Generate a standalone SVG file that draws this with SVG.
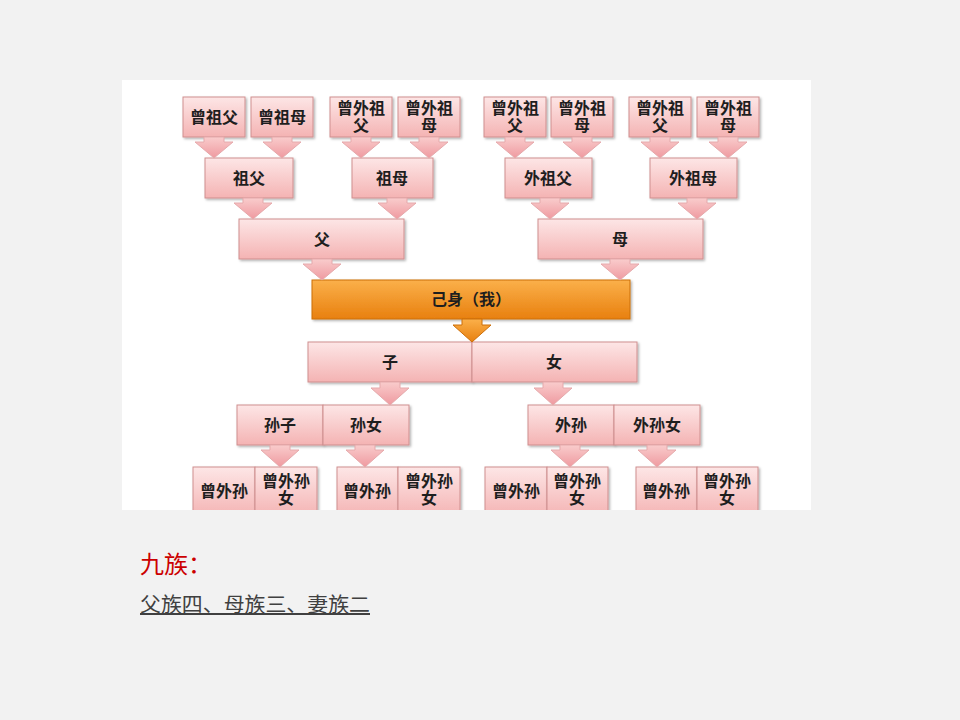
<svg xmlns="http://www.w3.org/2000/svg" width="960" height="720" viewBox="0 0 960 720">
<defs>
<linearGradient id="pink" x1="0" y1="0" x2="0" y2="1">
<stop offset="0" stop-color="#fde6e6"/>
<stop offset="1" stop-color="#f4b3b3"/>
</linearGradient>
<linearGradient id="pinka" x1="0" y1="0" x2="0" y2="1">
<stop offset="0" stop-color="#f9cccc"/>
<stop offset="1" stop-color="#ef9aa0"/>
</linearGradient>
<linearGradient id="orange" x1="0" y1="0" x2="0" y2="1">
<stop offset="0" stop-color="#fbb04a"/>
<stop offset="1" stop-color="#e8800f"/>
</linearGradient>
<filter id="sh" x="-10%" y="-10%" width="125%" height="130%">
<feDropShadow dx="1.5" dy="1.5" stdDeviation="1" flood-color="#000" flood-opacity="0.3"/>
</filter>
<clipPath id="img"><rect x="122" y="80" width="689" height="430"/></clipPath>
<style>
.b{fill:url(#pink);stroke:#cf8f8f;stroke-width:1;filter:url(#sh)}
.o{fill:url(#orange);stroke:#cc6e08;stroke-width:1;filter:url(#sh)}
.a{fill:url(#pinka);stroke:#e5a9ab;stroke-width:1}
.ao{fill:url(#orange);stroke:#cc6e08;stroke-width:1}
.t{font-family:"Liberation Serif","Noto Sans CJK SC",serif;font-weight:bold;font-size:16px;fill:#1e1e1e;text-anchor:middle}
</style>
</defs>
<rect width="960" height="720" fill="#f2f2f2"/>
<rect x="122" y="80" width="689" height="430" fill="#ffffff"/>
<g clip-path="url(#img)">
<g id="n-zengzufu"><rect class="b" x="183" y="97" width="62" height="40"/><text class="t" x="214" y="123">曾祖父</text></g>
<g id="n-zengzumu"><rect class="b" x="251" y="97" width="62" height="40"/><text class="t" x="282" y="123">曾祖母</text></g>
<g id="n-zwzf1"><rect class="b" x="330" y="97" width="62" height="40"/><text class="t" x="361" y="114">曾外祖</text><text class="t" x="361" y="131">父</text></g>
<g id="n-zwzm1"><rect class="b" x="398" y="97" width="62" height="40"/><text class="t" x="429" y="114">曾外祖</text><text class="t" x="429" y="131">母</text></g>
<g id="n-zwzf2"><rect class="b" x="484" y="97" width="62" height="40"/><text class="t" x="515" y="114">曾外祖</text><text class="t" x="515" y="131">父</text></g>
<g id="n-zwzm2"><rect class="b" x="551" y="97" width="62" height="40"/><text class="t" x="582" y="114">曾外祖</text><text class="t" x="582" y="131">母</text></g>
<g id="n-zwzf3"><rect class="b" x="629" y="97" width="62" height="40"/><text class="t" x="660" y="114">曾外祖</text><text class="t" x="660" y="131">父</text></g>
<g id="n-zwzm3"><rect class="b" x="697" y="97" width="62" height="40"/><text class="t" x="728" y="114">曾外祖</text><text class="t" x="728" y="131">母</text></g>

<g id="n-zufu"><rect class="b" x="205" y="158" width="88" height="40"/><text class="t" x="249" y="184">祖父</text></g>
<g id="n-zumu"><rect class="b" x="352" y="158" width="81" height="40"/><text class="t" x="392" y="184">祖母</text></g>
<g id="n-waizufu"><rect class="b" x="505" y="158" width="87" height="40"/><text class="t" x="548" y="184">外祖父</text></g>
<g id="n-waizumu"><rect class="b" x="650" y="158" width="87" height="40"/><text class="t" x="693" y="184">外祖母</text></g>

<g id="n-fu"><rect class="b" x="239" y="219" width="165" height="40"/><text class="t" x="322" y="245">父</text></g>
<g id="n-mu"><rect class="b" x="538" y="219" width="165" height="40"/><text class="t" x="620" y="245">母</text></g>

<g id="n-jishen"><rect class="o" x="312" y="280" width="318" height="39"/><text class="t" x="471" y="305">己身（我）</text></g>

<g id="n-zi"><rect class="b" x="308" y="342" width="164" height="40"/><text class="t" x="390" y="368">子</text></g>
<g id="n-nv"><rect class="b" x="472" y="342" width="165" height="40"/><text class="t" x="554" y="368">女</text></g>

<g id="n-sunzi"><rect class="b" x="237" y="405" width="86" height="40"/><text class="t" x="280" y="431">孙子</text></g>
<g id="n-sunnv"><rect class="b" x="323" y="405" width="86" height="40"/><text class="t" x="366" y="431">孙女</text></g>
<g id="n-waisun"><rect class="b" x="528" y="405" width="86" height="40"/><text class="t" x="571" y="431">外孙</text></g>
<g id="n-waisunnv"><rect class="b" x="614" y="405" width="86" height="40"/><text class="t" x="657" y="431">外孙女</text></g>

<g id="n-zws1"><rect class="b" x="193" y="467" width="62" height="50"/><text class="t" x="224" y="497">曾外孙</text></g>
<g id="n-zwsn1"><rect class="b" x="255" y="467" width="62" height="50"/><text class="t" x="286" y="487">曾外孙</text><text class="t" x="286" y="504">女</text></g>
<g id="n-zws2"><rect class="b" x="337" y="467" width="61" height="50"/><text class="t" x="367" y="497">曾外孙</text></g>
<g id="n-zwsn2"><rect class="b" x="398" y="467" width="62" height="50"/><text class="t" x="429" y="487">曾外孙</text><text class="t" x="429" y="504">女</text></g>
<g id="n-zws3"><rect class="b" x="485" y="467" width="62" height="50"/><text class="t" x="516" y="497">曾外孙</text></g>
<g id="n-zwsn3"><rect class="b" x="547" y="467" width="61" height="50"/><text class="t" x="577" y="487">曾外孙</text><text class="t" x="577" y="504">女</text></g>
<g id="n-zws4"><rect class="b" x="636" y="467" width="61" height="50"/><text class="t" x="666" y="497">曾外孙</text></g>
<g id="n-zwsn4"><rect class="b" x="697" y="467" width="61" height="50"/><text class="t" x="727" y="487">曾外孙</text><text class="t" x="727" y="504">女</text></g>

<g id="connectors">
<path class="a" d="M204 137H224V142H233L214 158L195 142H204Z"/>
<path class="a" d="M272 137H292V142H301L282 158L263 142H272Z"/>
<path class="a" d="M351 137H371V142H380L361 158L342 142H351Z"/>
<path class="a" d="M419 137H439V142H448L429 158L410 142H419Z"/>
<path class="a" d="M505 137H525V142H534L515 158L496 142H505Z"/>
<path class="a" d="M572 137H592V142H601L582 158L563 142H572Z"/>
<path class="a" d="M650 137H670V142H679L660 158L641 142H650Z"/>
<path class="a" d="M718 137H738V142H747L728 158L709 142H718Z"/>

<path class="a" d="M243 198H263V203H272L253 219L234 203H243Z"/>
<path class="a" d="M387 198H407V203H416L397 219L378 203H387Z"/>
<path class="a" d="M540 198H560V203H569L550 219L531 203H540Z"/>
<path class="a" d="M687 198H707V203H716L697 219L678 203H687Z"/>

<path class="a" d="M312 259H332V264H341L322 280L303 264H312Z"/>
<path class="a" d="M610 259H630V264H639L620 280L601 264H610Z"/>

<path class="ao" d="M462 319H482V325H491L472 342L453 325H462Z"/>

<path class="a" d="M380 382H400V388H409L390 405L371 388H380Z"/>
<path class="a" d="M543 382H563V388H572L553 405L534 388H543Z"/>

<path class="a" d="M270 445H290V450H299L280 467L261 450H270Z"/>
<path class="a" d="M355 445H375V450H384L365 467L346 450H355Z"/>
<path class="a" d="M560 445H580V450H589L570 467L551 450H560Z"/>
<path class="a" d="M647 445H667V450H676L657 467L638 450H647Z"/>
</g>
</g>

<text x="140" y="573" font-family="Liberation Serif,Noto Sans CJK SC,serif" font-size="24" fill="#cc0000">九族：</text>
<text x="140" y="612" font-family="Liberation Serif,Noto Sans CJK SC,serif" font-size="20" fill="#404040" text-decoration="underline" textLength="230" lengthAdjust="spacingAndGlyphs">父族四、母族三、妻族二</text>
</svg>
